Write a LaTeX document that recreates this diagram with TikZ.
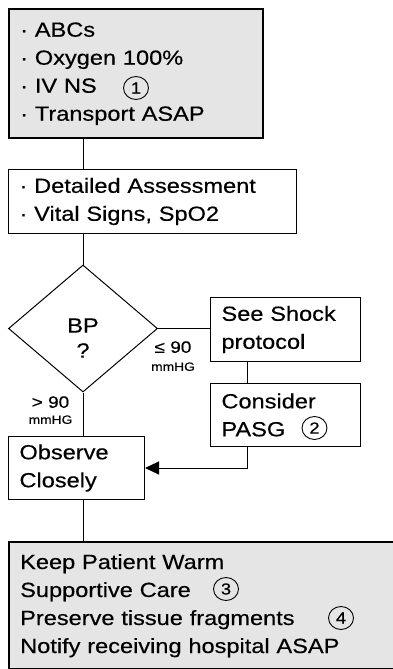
\documentclass[tikz,border=0pt]{standalone}
\usepackage{fontspec}
\setmainfont{Liberation Sans}[FakeStretch=1.15, FakeBold=0.4]
\usetikzlibrary{shapes.geometric, arrows.meta}
\definecolor{boxgrey}{RGB}{229,229,229}

\begin{document}
\begin{tikzpicture}[x=1pt,y=-1pt,>=latex,
  box/.style={draw, line width=1pt, anchor=north west, align=left,
    inner xsep=11pt, inner ysep=0pt, font=\fontsize{20.5}{28}\selectfont},
  greybox/.style={box, fill=boxgrey, line width=2.4pt},
  num/.style={draw, ellipse, line width=0.9pt, minimum width=25pt,
    minimum height=23pt, inner sep=0pt, font=\fontsize{16}{16}\selectfont},
  lbl/.style={align=center, inner sep=0pt}]
  \useasboundingbox (0,0) rectangle (393,669);

  % Kaesten
  \node[greybox, text width=232pt, minimum height=129pt] (top) at (8,8)
    {· ABCs\\· Oxygen 100\%\\· IV NS\\· Transport ASAP};
  \node[box, text width=266pt, minimum height=64pt] (detail) at (8,169)
    {· Detailed Assessment\\· Vital Signs, SpO2};
  \node[draw, diamond, line width=1pt, minimum width=149pt,
    minimum height=127pt, inner sep=0pt] (dia) at (83,328.5) {};
  \node[align=center, inner sep=0pt, font=\fontsize{20.5}{25}\selectfont]
    (bp) at (83,338) {BP\\?};
  \node[box, text width=128pt, minimum height=64pt] (shock) at (210,297)
    {See Shock\\protocol};
  \node[box, text width=128pt, minimum height=63pt] (consider) at (210,383)
    {Consider\\PASG};
  \node[box, text width=114pt, minimum height=63pt] (observe) at (8,436)
    {Observe\\Closely};
  \node[greybox, text width=398pt, minimum height=127pt] (bottom) at (8,541)
    {Keep Patient Warm\\Supportive Care\\Preserve tissue fragments\\Notify receiving hospital ASAP};

  % Nummern
  \foreach \i/\px/\py in {1/136/88, 2/314.5/428, 3/226/589, 4/341/618} {
    \node[num] (n\i) at (\px,\py) {\i};
  }

  % Beschriftung der Zweige
  \node[lbl, font=\fontsize{16.5}{18}\selectfont] (le) at (173,356.1)
    {≤ 90\\{\fontsize{12}{12}\selectfont mmHG}};
  \node[lbl, font=\fontsize{16.5}{16}\selectfont] (gt) at (50.5,410.1)
    {> 90\\{\fontsize{12}{12}\selectfont mmHG}};

  % Verbindungen
  \coordinate (bend) at (247,467);
  \draw[line width=1pt] (top.south -| dia.north) -- (detail.north -| dia.north);
  \draw[line width=1pt] (detail.south -| dia.north) -- (dia.north);
  \draw[line width=1pt] (dia.east) -- (dia.east -| shock.west);
  \draw[line width=1pt] (dia.south) -- (observe.north -| dia.south);
  \draw[line width=1pt] (shock.south -| bend) -- (consider.north -| bend);
  \draw[line width=1pt, -{Triangle[length=14pt,width=13pt]}]
    (consider.south -| bend) |- (observe.east);
  \draw[line width=1pt] (observe.south -| dia.south) -- (bottom.north -| dia.south);

\end{tikzpicture}
\end{document}
